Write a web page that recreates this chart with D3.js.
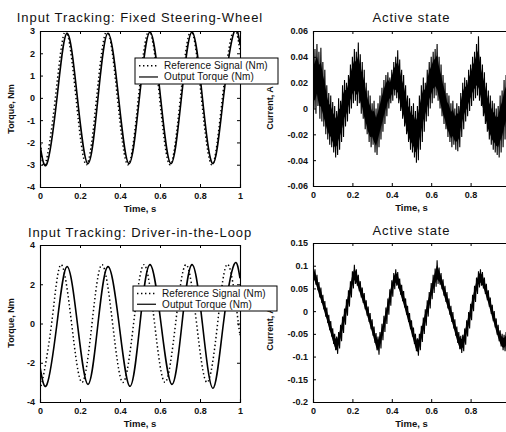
<!DOCTYPE html>
<html><head><meta charset="utf-8">
<script src="https://cdn.jsdelivr.net/npm/d3@7"></script>
<style>
body{margin:0;background:#fff;}
svg{display:block;font-family:"Liberation Sans",Arial,Helvetica,sans-serif;}
</style></head>
<body><svg id="c" width="506" height="432"></svg>
<script>
// ---------- data ----------
const timeTicks = [0, 0.2, 0.4, 0.6, 0.8, 1];
const timeTickLabels = ["0", "0.2", "0.4", "0.6", "0.8", "1"];
const timeTickLabelsCut = ["0", "0.2", "0.4", "0.6", "0.8", ""]; // "1" falls outside the picture

const torqueTicksA = [-4, -3, -2, -1, 0, 1, 2, 3];
const torqueTicksB = [-4, -2, 0, 2, 4];
const currentTicksA = [-0.06, -0.04, -0.02, 0, 0.02, 0.04, 0.06];
const currentTickLabelsA = ["-0.06", "-0.04", "-0.02", "0", "0.02", "0.04", "0.06"];
const currentTicksB = [-0.2, -0.15, -0.1, -0.05, 0, 0.05, 0.1, 0.15];
const currentTickLabelsB = ["-0.2", "-0.15", "-0.1", "-0.05", "0", "0.05", "0.1", "0.15"];

const legendLabels = ["Reference Signal (Nm)", "Output Torque (Nm)"];

// Fixed steering-wheel: [time, torque]
const fixedRefT =   [0, 0.025, 0.077, 0.128, 0.18, 0.232, 0.283, 0.335, 0.387, 0.44, 0.492, 0.545, 0.598, 0.65, 0.702, 0.755, 0.807, 0.86, 0.912, 0.965, 1.0];
const fixedRefV =   [-1.7, -3.0, 0, 3.0, 0, -3.0, 0, 3.0, 0, -3.0, 0, 3.0, 0, -3.0, 0, 3.0, 0, -3.0, 0, 3.0, 2.1];
const fixedOutT =   [0, 0.035, 0.085, 0.135, 0.187, 0.24, 0.29, 0.34, 0.393, 0.445, 0.497, 0.55, 0.603, 0.655, 0.707, 0.76, 0.812, 0.865, 0.917, 0.97, 1.0];
const fixedOutV =   [-2.1, -2.95, 0, 2.9, 0, -2.95, 0, 2.9, 0, -2.95, 0, 2.95, 0, -2.95, 0, 2.95, 0, -2.95, 0, 2.95, 2.4];

// Driver-in-the-loop: [time, torque]
const driverRefT =  [0, 0.01, 0.058, 0.105, 0.158, 0.21, 0.26, 0.31, 0.363, 0.415, 0.468, 0.52, 0.573, 0.625, 0.678, 0.73, 0.783, 0.835, 0.888, 0.94, 0.992, 1.0];
const driverRefV =  [-2.9, -3.0, 0, 3.0, 0, -3.0, 0, 3.0, 0, -3.0, 0, 3.0, 0, -3.0, 0, 3.0, 0, -3.0, 0, 3.0, 0, -0.4];
const driverOutT =  [0, 0.035, 0.085, 0.135, 0.187, 0.24, 0.29, 0.34, 0.395, 0.45, 0.5, 0.55, 0.605, 0.66, 0.71, 0.76, 0.812, 0.865, 0.917, 0.97, 1.0];
const driverOutV =  [-2.2, -3.1, 0, 2.9, 0, -3.1, 0, 2.9, 0, -3.2, 0, 3.0, 0, -3.1, 0, 3.0, 0, -3.3, 0, 3.0, 2.3];

// Active state currents: samples every 0.01 s, upper and lower edge of the noisy trace
const currentTime = d3.range(0, 101).map(i => i / 100);
const fixedCurUpper = [0.040,0.046,0.050,0.044,0.047,0.036,0.030,0.018,0.012,0.010,
  0.005,0.002,-0.002,0.008,0.006,0.018,0.022,0.020,0.026,0.034,
  0.040,0.046,0.044,0.051,0.042,0.036,0.030,0.020,0.014,0.010,
  0.004,0.006,0.000,0.004,0.010,0.016,0.022,0.026,0.028,0.024,
  0.030,0.036,0.040,0.045,0.038,0.030,0.026,0.018,0.010,0.008,
  0.002,0.004,-0.002,0.002,0.010,0.018,0.024,0.020,0.030,0.036,
  0.040,0.044,0.046,0.050,0.040,0.034,0.026,0.020,0.012,0.010,
  0.004,0.006,0.000,0.004,0.002,0.012,0.020,0.024,0.022,0.030,
  0.034,0.040,0.044,0.050,0.056,0.040,0.034,0.028,0.020,0.014,
  0.010,0.006,0.004,0.000,0.002,0.010,0.014,0.022,0.026,0.030,0.032];
const fixedCurLower = [0.000,-0.004,0.002,-0.008,-0.010,-0.014,-0.020,-0.024,-0.028,-0.030,
  -0.034,-0.038,-0.036,-0.032,-0.026,-0.022,-0.014,-0.010,-0.004,0.000,
  0.004,0.006,0.002,0.004,-0.004,-0.008,-0.016,-0.020,-0.026,-0.030,
  -0.028,-0.034,-0.036,-0.030,-0.024,-0.018,-0.012,-0.006,0.000,0.004,
  0.006,0.010,0.008,0.004,-0.002,-0.008,-0.014,-0.020,-0.026,-0.032,
  -0.034,-0.038,-0.042,-0.040,-0.032,-0.026,-0.018,-0.010,-0.006,0.000,
  0.004,0.008,0.010,0.006,0.000,-0.006,-0.012,-0.016,-0.022,-0.026,
  -0.030,-0.028,-0.032,-0.033,-0.030,-0.022,-0.016,-0.010,-0.006,-0.002,
  0.002,0.006,0.008,0.010,0.006,0.002,-0.006,-0.012,-0.018,-0.024,
  -0.028,-0.032,-0.034,-0.036,-0.038,-0.034,-0.030,-0.024,-0.018,-0.016,-0.012];
const driverCurUpper = [0.100,0.092,0.080,0.064,0.052,0.036,0.022,0.008,-0.008,-0.022,
  -0.038,-0.050,-0.056,-0.046,-0.030,-0.012,0.006,0.026,0.046,0.066,
  0.088,0.102,0.092,0.080,0.066,0.052,0.040,0.024,0.010,-0.004,
  -0.018,-0.034,-0.048,-0.056,-0.046,-0.028,-0.010,0.008,0.028,0.048,
  0.068,0.084,0.092,0.086,0.072,0.058,0.044,0.028,0.012,-0.004,
  -0.020,-0.036,-0.050,-0.060,-0.050,-0.032,-0.014,0.004,0.024,0.042,
  0.062,0.080,0.094,0.112,0.096,0.084,0.070,0.056,0.042,0.028,
  0.012,-0.002,-0.018,-0.034,-0.046,-0.054,-0.052,-0.038,-0.020,-0.002,
  0.016,0.036,0.056,0.074,0.088,0.092,0.086,0.074,0.060,0.046,
  0.030,0.014,0.000,-0.016,-0.030,-0.042,-0.050,-0.052,-0.046,-0.034,-0.022];
const driverCurLower = [0.068,0.058,0.046,0.030,0.018,0.004,-0.012,-0.026,-0.042,-0.056,
  -0.072,-0.086,-0.094,-0.082,-0.066,-0.048,-0.030,-0.010,0.010,0.030,
  0.050,0.060,0.056,0.044,0.030,0.018,0.004,-0.010,-0.024,-0.040,
  -0.054,-0.070,-0.086,-0.096,-0.082,-0.064,-0.046,-0.028,-0.008,0.012,
  0.032,0.048,0.056,0.050,0.036,0.022,0.008,-0.008,-0.024,-0.040,
  -0.056,-0.072,-0.088,-0.098,-0.086,-0.068,-0.050,-0.032,-0.012,0.006,
  0.026,0.040,0.054,0.060,0.058,0.048,0.034,0.020,0.006,-0.008,
  -0.024,-0.038,-0.054,-0.070,-0.084,-0.092,-0.088,-0.074,-0.056,-0.038,
  -0.020,0.000,0.020,0.038,0.052,0.056,0.050,0.038,0.024,0.010,
  -0.006,-0.022,-0.036,-0.052,-0.066,-0.078,-0.086,-0.088,-0.082,-0.070,-0.058];

// ---------- drawing ----------
const svg = d3.select("#c");
const INK = "#111";

function panel(cfg) {
  const x = d3.scaleLinear().domain([0, 1]).range([cfg.left, cfg.right]);
  const y = d3.scaleLinear().domain(cfg.yDomain).range([cfg.bottom, cfg.top]);
  const g = svg.append("g");
  const id = "clip" + cfg.id;
  svg.append("clipPath").attr("id", id).append("rect")
    .attr("x", cfg.left).attr("y", cfg.top)
    .attr("width", cfg.right - cfg.left).attr("height", cfg.bottom - cfg.top);

  const plot = g.append("g").attr("clip-path", `url(#${id})`);
  cfg.draw(plot, x, y);

  const fmtY = v => cfg.yLabels[cfg.yTicks.indexOf(v)];
  const fmtX = v => cfg.xLabels[timeTicks.indexOf(v)];
  const axL = g.append("g").attr("transform", `translate(${cfg.left},0)`)
    .call(d3.axisLeft(y).tickValues(cfg.yTicks).tickFormat(fmtY).tickSize(-3).tickPadding(5));
  const axR = g.append("g").attr("transform", `translate(${cfg.right},0)`)
    .call(d3.axisRight(y).tickValues(cfg.yTicks).tickFormat("").tickSize(-3));
  const axB = g.append("g").attr("transform", `translate(0,${cfg.bottom})`)
    .call(d3.axisBottom(x).tickValues(timeTicks).tickFormat(fmtX).tickSize(-3).tickPadding(6));
  const axT = g.append("g").attr("transform", `translate(0,${cfg.top})`)
    .call(d3.axisTop(x).tickValues(timeTicks).tickFormat("").tickSize(-3));
  [axL, axR, axB, axT].forEach(a => {
    a.selectAll(".domain").attr("stroke", "#000").attr("stroke-width", 1.1);
    a.selectAll(".tick line").attr("stroke", "#000");
    a.selectAll("text").attr("font-size", 9).attr("font-weight", "bold")
      .attr("fill", INK).attr("font-family", "Liberation Sans, Arial, sans-serif");
  });

  g.append("text").attr("x", (cfg.left + cfg.right) / 2).attr("y", cfg.titleY)
    .attr("text-anchor", "middle").attr("font-size", 13).attr("letter-spacing", 0.9)
    .attr("fill", INK).text(cfg.title);
  g.append("text").attr("x", (cfg.left + cfg.right) / 2).attr("y", cfg.bottom + 25)
    .attr("text-anchor", "middle").attr("font-size", 9.5).attr("font-weight", "bold").attr("fill", INK).text("Time, s");
  g.append("text")
    .attr("transform", `translate(${cfg.ylabX},${cfg.ylabY}) rotate(-90)`)
    .attr("text-anchor", "middle").attr("font-size", 9).attr("font-weight", "bold").attr("fill", INK).text(cfg.ylabel);
  return {x, y, g};
}

function torqueDraw(refT, refV, outT, outV) {
  return (plot, x, y) => {
    const line = d3.line().x(d => x(d[0])).y(d => y(d[1])).curve(d3.curveNatural);
    plot.append("path").datum(d3.zip(outT, outV)).attr("d", line)
      .attr("fill", "none").attr("stroke", "#000").attr("stroke-width", 1.6);
    plot.append("path").datum(d3.zip(refT, refV)).attr("d", line)
      .attr("fill", "none").attr("stroke", "#000").attr("stroke-width", 1.5)
      .attr("stroke-dasharray", "1.4,2.6");
  };
}

function currentDraw(upper, lower) {
  return (plot, x, y) => {
    // dense body of the trace
    const area = d3.area().x((d, i) => x(currentTime[i]))
      .y0((d, i) => y(lower[i] + (upper[i] - lower[i]) * 0.2))
      .y1((d, i) => y(upper[i] - (upper[i] - lower[i]) * 0.2));
    plot.append("path").datum(upper).attr("d", area).attr("fill", "#000");
    // spiky edges
    const pts = [];
    currentTime.forEach((t, i) => {
      pts.push([t, upper[i]]);
      pts.push([t + 0.005, lower[i]]);
    });
    const line = d3.line().x(d => x(d[0])).y(d => y(d[1]));
    plot.append("path").datum(pts).attr("d", line)
      .attr("fill", "none").attr("stroke", "#000").attr("stroke-width", 1.1);
  };
}

function legend(lx, ly, w, h) {
  const g = svg.append("g");
  g.append("rect").attr("x", lx).attr("y", ly).attr("width", w).attr("height", h)
    .attr("fill", "#fff").attr("stroke", "#000").attr("stroke-width", 1);
  const rows = [ly + h * 0.3, ly + h * 0.73];
  g.append("line").attr("x1", lx + 4).attr("x2", lx + 23).attr("y1", rows[0]).attr("y2", rows[0])
    .attr("stroke", "#000").attr("stroke-width", 1.5).attr("stroke-dasharray", "1.4,2.6");
  g.append("line").attr("x1", lx + 4).attr("x2", lx + 23).attr("y1", rows[1]).attr("y2", rows[1])
    .attr("stroke", "#000").attr("stroke-width", 1.2);
  legendLabels.forEach((s, i) => {
    g.append("text").attr("x", lx + 29).attr("y", rows[i] + 3.5).attr("font-size", 10)
      .attr("letter-spacing", 0.1).attr("fill", INK).text(s);
  });
}

panel({id: 1, left: 40, right: 240, top: 31, bottom: 187, yDomain: [-4, 3],
  yTicks: torqueTicksA, yLabels: torqueTicksA.map(String), xLabels: timeTickLabels,
  title: "Input Tracking: Fixed Steering-Wheel", titleY: 22, ylabel: "Torque, Nm", ylabX: 14, ylabY: 109,
  draw: torqueDraw(fixedRefT, fixedRefV, fixedOutT, fixedOutV)});
panel({id: 2, left: 313, right: 510, top: 31, bottom: 186, yDomain: [-0.06, 0.06],
  yTicks: currentTicksA, yLabels: currentTickLabelsA, xLabels: timeTickLabelsCut,
  title: "Active state", titleY: 22, ylabel: "Current, A", ylabX: 273, ylabY: 108,
  draw: currentDraw(fixedCurUpper, fixedCurLower)});
panel({id: 3, left: 40, right: 240, top: 245, bottom: 402, yDomain: [-4, 4],
  yTicks: torqueTicksB, yLabels: torqueTicksB.map(String), xLabels: timeTickLabels,
  title: "Input Tracking: Driver-in-the-Loop", titleY: 237, ylabel: "Torque, Nm", ylabX: 14, ylabY: 323,
  draw: torqueDraw(driverRefT, driverRefV, driverOutT, driverOutV)});
panel({id: 4, left: 313, right: 510, top: 243, bottom: 402, yDomain: [-0.2, 0.15],
  yTicks: currentTicksB, yLabels: currentTickLabelsB, xLabels: timeTickLabelsCut,
  title: "Active state", titleY: 235, ylabel: "Current, A", ylabX: 273, ylabY: 329,
  draw: currentDraw(driverCurUpper, driverCurLower)});

legend(135, 58, 143, 26);
legend(133, 286, 144, 25);
</script></body></html>
